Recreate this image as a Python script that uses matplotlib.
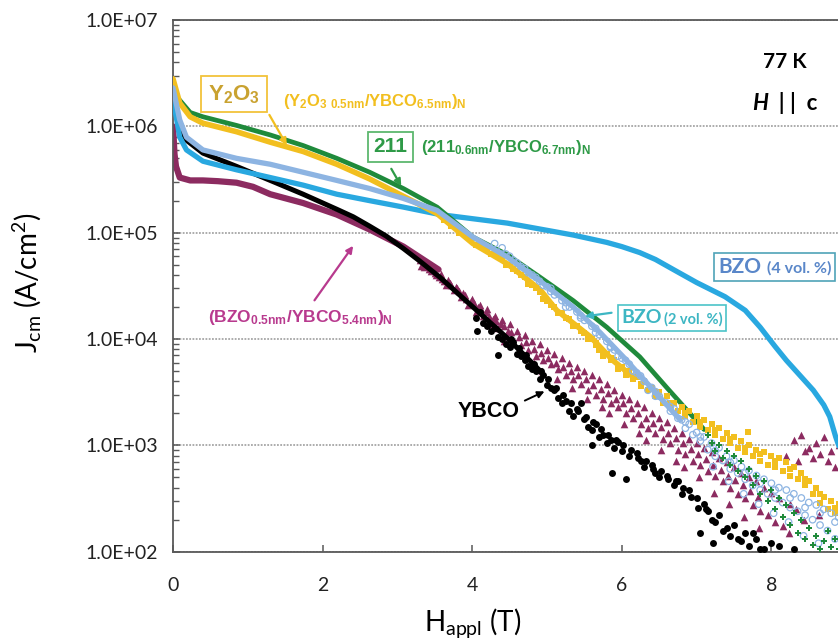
import matplotlib
matplotlib.use("Agg")
import matplotlib.pyplot as plt
from matplotlib.ticker import FuncFormatter, LogLocator, NullFormatter, NullLocator
from matplotlib.offsetbox import TextArea, HPacker, AnnotationBbox

plt.rcParams['font.family'] = ['Lato', 'DejaVu Sans']

# ================= DATA (H in T, Jc in A/cm^2) =================
# YBCO (black circles)
ybco_h_line = [0.01, 0.05, 0.09, 0.18, 0.40, 0.85, 1.30, 1.74, 2.19, 2.41, 2.63, 2.85, 3.08, 3.3,
               3.57, 4.01, 4.47, 4.91]
ybco_j_line = [1.58e6, 1.32e6, 9.8e5, 7.4e5, 5.6e5, 4.2e5, 3.1e5, 2.3e5, 1.66e5, 1.41e5, 1.15e5,
               9.3e4, 7.1e4, 5.4e4, 3.8e4, 2.0e4, 1.02e4, 5.0e3]
ybco_h_pts = [4.05, 4.1, 4.06, 4.15, 4.2, 4.25, 4.3, 4.35, 4.35, 4.4, 4.45, 4.5, 4.55, 4.6, 4.65, 4.7,
              4.75, 4.8, 4.85, 4.9, 4.95, 5.0, 5.05, 5.1, 5.15, 5.2, 5.25, 5.3, 5.35, 5.4, 5.45, 5.5,
              5.55, 5.6, 5.6, 5.65, 5.7, 5.75, 5.8, 5.85, 5.87, 5.9, 5.95, 6.0, 6.05, 6.1, 6.2, 6.25,
              6.3, 6.4, 6.45, 6.5, 6.6, 6.7, 6.75, 6.8, 6.9, 7.0, 7.05, 7.1, 7.15, 7.2, 7.22, 7.3,
              7.4, 7.45, 7.5, 7.6, 7.65, 7.7, 7.8, 7.9, 8.1, 8.3,
              4.52, 4.62, 4.72, 4.82, 4.92, 5.02, 5.12, 5.22, 5.32, 5.42, 5.52, 5.62, 5.72, 5.82,
              5.92, 6.02, 6.12, 6.22, 6.32, 6.42, 6.52, 6.62, 6.72, 6.82, 6.92, 7.02, 7.12, 7.25,
              7.35, 7.55, 7.75, 7.85, 8.0]
ybco_j_pts = [1.58e4, 1.78e4, 1.2e4, 1.41e4, 1.32e4, 1.2e4, 1.26e4, 1.05e4, 7.1e3, 1.0e4, 8.9e3, 8.5e3,
              9.3e3, 7.2e3, 6.9e3, 6.3e3, 5.6e3, 5.2e3, 5.0e3, 4.2e3, 4.6e3, 3.7e3, 3.5e3, 3.3e3,
              2.8e3, 2.5e3, 2.6e3, 2.1e3, 1.9e3, 2.2e3, 2.5e3, 1.78e3, 1.5e3, 1.4e3, 1.0e3, 1.6e3,
              1.2e3, 1.26e3, 1.05e3, 1.12e3, 5.5e2, 9.5e2, 1.07e3, 8.9e2, 4.8e2, 7.9e2, 8.5e2, 7.1e2,
              6.3e2, 6.6e2, 5.5e2, 5.0e2, 5.2e2, 4.2e2, 4.6e2, 3.5e2, 3.8e2, 3.2e2, 1.51e2, 2.8e2,
              2.4e2, 2.0e2, 1.2e2, 2.2e2, 1.66e2, 1.41e2, 1.78e2, 1.26e2, 1.5e2, 1.12e2, 1.32e2,
              1.07e2, 1.12e2, 1.05e2,
              1.0e4, 8.3e3, 7.1e3, 5.8e3, 5.0e3, 4.2e3, 3.5e3, 3.0e3, 2.5e3, 2.1e3, 1.86e3, 1.66e3,
              1.41e3, 1.26e3, 1.12e3, 1.0e3, 9.1e2, 7.6e2, 7.2e2, 6.0e2, 5.8e2, 4.8e2, 4.6e2, 4.0e2,
              3.3e2, 2.6e2, 2.5e2, 1.9e2, 1.58e2, 1.32e2, 1.51e2, 1.05e2, 1.2e2]

# (BZO0.5nm/YBCO5.4nm)N multilayer (maroon triangles)
bml_h_line = [0.0, 0.01, 0.02, 0.04, 0.09, 0.23, 0.40, 0.60, 0.85, 1.07, 1.30, 1.74, 2.19, 2.63,
              3.08, 3.55]
bml_j_line = [1.0e6, 7.5e5, 5.5e5, 4.2e5, 3.3e5, 3.1e5, 3.1e5, 3.05e5, 2.95e5, 2.7e5, 2.3e5, 1.9e5,
              1.48e5, 1.07e5, 7.4e4, 4.5e4]
bml_h_pts = [3.3, 3.35, 3.4, 3.45, 3.5, 3.55, 3.6, 3.65, 3.7, 3.75, 3.8, 3.85, 3.9, 3.95, 4.0, 4.05,
             4.1, 4.15, 4.2, 4.25, 4.3, 4.35, 4.4, 4.45, 4.43, 4.5, 4.55, 4.6, 4.65, 4.63, 4.7, 4.75,
             4.8, 4.85, 4.83, 4.9, 4.95, 4.93, 5.0, 5.05, 5.1, 5.15, 5.13, 5.2, 5.25, 5.3, 5.35, 5.33,
             5.4, 5.45, 5.5, 5.55, 5.53, 5.6, 5.65, 5.7, 5.75, 5.73, 5.8, 5.85, 5.83, 5.9, 5.95, 6.0,
             6.05, 6.03, 6.1, 6.15, 6.2, 6.25, 6.23, 6.3, 6.35, 6.33, 6.4, 6.45, 6.5, 6.55, 6.53, 6.6,
             6.65, 6.7, 6.75, 6.73, 6.8, 6.85, 6.83, 6.9, 6.95, 7.0, 7.05, 7.03, 7.1, 7.15, 7.2, 7.25,
             7.23, 7.3, 7.35, 7.4, 7.45, 7.43, 7.5, 7.55, 7.6, 7.65, 7.63, 7.7, 7.75, 7.8, 7.85, 7.83,
             7.9, 7.95, 8.0, 8.05, 8.1, 8.15, 8.2, 8.25, 8.23, 8.3, 8.35, 8.33, 8.4, 8.45, 8.43, 8.5,
             8.55, 8.6, 8.65, 8.63, 8.7, 8.75, 8.8, 8.85, 8.9, 8.95,
             3.32, 3.42, 3.52, 3.62, 3.72, 3.82, 3.92, 4.02, 4.12, 4.22, 4.32, 4.42, 4.52, 4.62,
             4.72, 4.82, 4.92, 5.02, 5.12, 5.22, 5.32, 5.42, 5.52, 5.62, 5.72, 5.82, 5.92, 6.02,
             6.12, 6.22, 6.32, 6.42, 6.52, 6.62, 6.72, 6.82, 6.92, 7.02, 7.12, 7.22, 7.32, 7.42,
             7.52, 7.62, 7.72, 7.82,
             3.58, 3.68, 3.78, 3.88, 3.98, 4.08, 4.18, 4.28, 4.38, 4.48]
bml_j_pts = [5.5e4, 4.8e4, 5.0e4, 4.4e4, 4.2e4, 3.8e4, 3.7e4, 3.2e4, 3.4e4, 2.9e4, 3.0e4, 2.5e4, 2.6e4,
             2.1e4, 2.4e4, 1.8e4, 2.1e4, 1.66e4, 1.9e4, 1.38e4, 1.66e4, 1.26e4, 1.5e4, 1.1e4, 9.5e3,
             1.38e4, 9.5e3, 1.2e4, 8.7e3, 7.6e3, 1.1e4, 7.9e3, 9.5e3, 6.9e3, 6.0e3, 8.9e3, 6.3e3,
             5.0e3, 7.9e3, 5.8e3, 7.2e3, 5.2e3, 4.2e3, 6.6e3, 4.6e3, 6.0e3, 4.2e3, 3.5e3, 5.5e3, 3.8e3,
             5.0e3, 3.3e3, 2.75e3, 4.6e3, 3.0e3, 4.2e3, 2.75e3, 2.3e3, 3.8e3, 2.5e3, 2.0e3, 3.3e3,
             2.3e3, 3.0e3, 2.0e3, 1.58e3, 2.75e3, 1.8e3, 2.5e3, 1.58e3, 1.32e3, 2.3e3, 1.45e3, 1.12e3,
             2.0e3, 1.32e3, 1.8e3, 1.15e3, 9.1e2, 1.66e3, 1.05e3, 1.45e3, 9.1e2, 7.2e2, 1.32e3, 8.3e2,
             6.3e2, 1.15e3, 7.2e2, 1.05e3, 6.6e2, 5.0e2, 9.5e2, 5.8e2, 8.7e2, 5.2e2, 3.6e2, 7.6e2,
             4.6e2, 6.9e2, 4.0e2, 2.8e2, 6.3e2, 3.5e2, 5.5e2, 3.2e2, 2.1e2, 5.0e2, 2.75e2, 4.6e2,
             2.4e2, 1.66e2, 4.0e2, 2.2e2, 3.6e2, 1.9e2, 3.2e2, 1.74e2, 7.9e2, 2.8e2, 1.51e2, 1.12e3,
             7.1e2, 2.5e2, 1.26e3, 8.9e2, 2.0e2, 9.5e2, 7.6e2, 1.05e3, 8.3e2, 2.2e2, 1.2e3, 7.1e2,
             8.9e2, 6.3e2, 1.0e3, 7.6e2,
             4.9e4, 4.6e4, 4.0e4, 3.5e4, 3.2e4, 2.8e4, 2.4e4, 2.2e4, 1.9e4, 1.66e4, 1.48e4, 1.32e4,
             1.17e4, 1.05e4, 9.3e3, 8.1e3, 7.4e3, 6.6e3, 6.0e3, 5.5e3, 5.0e3, 4.6e3, 4.2e3, 3.7e3,
             3.4e3, 3.1e3, 2.75e3, 2.5e3, 2.24e3, 2.0e3, 1.8e3, 1.62e3, 1.48e3, 1.32e3, 1.17e3,
             1.05e3, 9.3e2, 8.3e2, 7.4e2, 6.6e2, 5.9e2, 5.2e2, 4.7e2, 4.2e2, 3.7e2, 3.3e2,
             4.1e4, 3.6e4, 3.1e4, 2.7e4, 2.3e4, 2.0e4, 1.78e4, 1.55e4, 1.38e4, 1.2e4]

# BZO 2 vol.% (light blue open circles)
bzo2_h_line = [0.0, 0.09, 0.18, 0.40, 0.85, 1.30, 1.74, 2.19, 2.63, 3.08, 3.53, 4.01, 4.47, 4.91,
               5.35, 5.71, 6.02, 6.33, 6.78]
bzo2_j_line = [2.3e6, 1.15e6, 7.9e5, 6.0e5, 5.0e5, 4.4e5, 3.7e5, 3.1e5, 2.6e5, 2.1e5, 1.62e5, 9.1e4,
               5.9e4, 3.5e4, 2.0e4, 1.15e4, 6.8e3, 3.9e3, 1.74e3]
bzo2_h_pts = [4.3, 4.4, 4.5, 4.55, 4.6, 4.7, 4.75, 4.8, 4.9, 4.95, 5.0, 5.05, 5.1, 5.2, 5.25, 5.3,
              5.4, 5.45, 5.5, 5.6, 5.65, 5.7, 5.8, 5.85, 5.9, 5.95, 6.0, 6.1, 6.15, 6.2, 6.3, 6.35,
              6.4, 6.45, 6.5, 6.6, 6.65, 6.7, 6.75, 6.8, 6.85, 6.9, 6.95, 7.0, 7.05, 7.1, 7.15, 7.2,
              7.25, 7.22, 7.3, 7.35, 7.4, 7.45, 7.43, 7.5, 7.55, 7.6, 7.65, 7.63, 7.7, 7.75, 7.8,
              7.85, 7.83, 7.9, 7.95, 8.0, 8.05, 8.03, 8.1, 8.15, 8.2, 8.25, 8.23, 8.3, 8.35, 8.4,
              8.45, 8.43, 8.5, 8.55, 8.6, 8.65, 8.63, 8.7, 8.75, 8.8, 8.85, 8.9, 8.95,
              4.45, 4.65, 4.85, 5.05, 5.25, 5.45, 5.65, 5.85, 6.05, 6.25, 6.45, 6.65, 6.85, 7.05,
              7.25, 7.45, 7.65, 7.85, 8.05, 8.25, 8.45, 8.65, 8.85]
bzo2_j_pts = [7.9e4, 7.2e4, 6.0e4, 5.5e4, 5.2e4, 4.6e4, 4.2e4, 4.0e4, 3.5e4, 3.2e4, 3.1e4, 2.8e4,
              2.6e4, 2.3e4, 2.0e4, 2.0e4, 1.8e4, 1.58e4, 1.5e4, 1.32e4, 1.15e4, 1.1e4, 9.5e3, 8.3e3,
              7.9e3, 6.9e3, 6.6e3, 5.8e3, 5.0e3, 4.8e3, 4.0e3, 3.3e3, 3.5e3, 2.9e3, 2.9e3, 2.5e3,
              2.1e3, 2.2e3, 1.8e3, 1.74e3, 1.45e3, 1.58e3, 1.26e3, 1.32e3, 1.1e3, 1.2e3, 9.1e2,
              1.05e3, 7.9e2, 6.3e2, 9.5e2, 7.2e2, 7.9e2, 6.0e2, 4.6e2, 7.2e2, 5.5e2, 6.3e2, 4.8e2,
              3.5e2, 5.8e2, 4.2e2, 5.2e2, 3.8e2, 2.8e2, 4.8e2, 3.5e2, 4.4e2, 3.2e2, 2.3e2, 4.0e2,
              2.9e2, 3.8e2, 2.6e2, 1.9e2, 3.5e2, 2.4e2, 3.2e2, 2.2e2, 1.41e2, 2.9e2, 2.0e2, 2.75e2,
              1.78e2, 1.2e2, 2.5e2, 1.58e2, 2.3e2, 1.32e2, 2.1e2, 1.12e2,
              6.3e4, 4.8e4, 3.8e4, 3.0e4, 2.2e4, 1.66e4, 1.26e4, 8.5e3, 6.3e3, 4.5e3, 3.2e3, 2.3e3,
              1.66e3, 1.2e3, 8.9e2, 6.9e2, 5.5e2, 4.4e2, 3.8e2, 3.2e2, 2.6e2, 2.3e2, 1.9e2]

# (Y2O3 0.5nm/YBCO6.5nm)N (gold squares)
y2o3_h_line = [0.0, 0.09, 0.23, 0.40, 0.85, 1.30, 1.74, 2.19, 2.63, 3.08, 3.53, 4.01, 4.47, 4.91,
               5.13, 5.35, 5.58, 5.88, 6.15]
y2o3_j_line = [2.8e6, 1.66e6, 1.23e6, 1.07e6, 8.9e5, 7.1e5, 5.8e5, 4.4e5, 3.2e5, 2.2e5, 1.51e5,
               7.9e4, 5.1e4, 2.9e4, 1.86e4, 1.41e4, 1.05e4, 6.3e3, 4.4e3]
y2o3_h_pts = [3.9, 3.95, 4.0, 4.1, 4.15, 4.2, 4.3, 4.35, 4.4, 4.5, 4.55, 4.6, 4.7, 4.75, 4.8, 4.9,
              4.95, 5.0, 5.1, 5.15, 5.2, 5.3, 5.35, 5.4, 5.5, 5.55, 5.6, 5.65, 5.7, 5.75, 5.8, 5.85,
              5.9, 5.95, 6.0, 6.05, 6.1, 6.15, 6.2, 6.25, 6.3, 6.35, 6.4, 6.45, 6.5, 6.55, 6.6, 6.65,
              6.7, 6.75, 6.8, 6.85, 6.9, 6.95, 7.0, 7.05, 7.1, 7.15, 7.2, 7.25, 7.3, 7.35, 7.4, 7.45,
              7.5, 7.55, 7.6, 7.65, 7.69, 7.7, 7.75, 7.8, 7.85, 7.9, 7.95, 8.0, 8.05, 8.1, 8.15, 8.2,
              8.25, 8.3, 8.35, 8.4, 8.45, 8.5, 8.55, 8.6, 8.65, 8.7, 8.75, 8.8, 8.85, 8.9, 8.95,
              3.62, 3.72, 3.82, 4.05, 4.25, 4.45, 4.65, 4.85, 5.05, 5.25, 5.45, 5.65, 5.85, 6.05,
              6.25, 6.45, 6.65, 6.85, 7.05, 7.25, 7.45, 7.65, 7.85, 8.05, 8.25, 8.45, 8.65, 8.85]
y2o3_j_pts = [1.0e5, 9.1e4, 8.9e4, 7.9e4, 7.2e4, 7.2e4, 6.6e4, 6.0e4, 5.8e4, 5.0e4, 4.6e4, 4.4e4,
              3.8e4, 3.3e4, 3.2e4, 2.75e4, 2.4e4, 2.3e4, 2.0e4, 1.74e4, 1.74e4, 1.55e4, 1.32e4,
              1.32e4, 1.15e4, 1.0e4, 1.0e4, 8.7e3, 7.9e3, 6.9e3, 7.2e3, 6.3e3, 6.3e3, 5.2e3, 5.5e3,
              4.6e3, 5.0e3, 4.2e3, 4.4e3, 3.6e3, 4.0e3, 3.3e3, 3.5e3, 2.9e3, 3.2e3, 2.5e3, 2.9e3,
              2.4e3, 2.5e3, 2.1e3, 2.3e3, 1.9e3, 2.1e3, 1.66e3, 1.9e3, 1.5e3, 1.74e3, 1.38e3, 1.58e3,
              1.26e3, 1.45e3, 1.15e3, 1.32e3, 1.05e3, 1.2e3, 9.5e2, 1.1e3, 8.7e2, 1.35e3, 1.0e3,
              7.9e2, 9.1e2, 7.2e2, 8.7e2, 6.6e2, 7.9e2, 6.3e2, 7.6e2, 5.8e2, 6.9e2, 5.2e2, 6.3e2,
              4.8e2, 5.5e2, 4.2e2, 4.6e2, 3.5e2, 4.0e2, 2.9e2, 3.3e2, 2.5e2, 3.0e2, 2.3e2, 2.8e2,
              2.1e2,
              1.32e5, 1.15e5, 1.0e5, 7.6e4, 6.3e4, 5.0e4, 4.0e4, 3.0e4, 2.1e4, 1.58e4, 1.2e4, 9.1e3,
              6.6e3, 5.0e3, 3.8e3, 3.0e3, 2.5e3, 2.0e3, 1.66e3, 1.38e3, 1.15e3, 9.5e2, 8.3e2, 7.1e2,
              6.0e2, 4.8e2, 3.5e2, 2.6e2]

# (211 0.6nm/YBCO6.7nm)N (green)
g211_h_line = [0.0, 0.05, 0.23, 0.40, 0.85, 1.30, 1.74, 2.19, 2.63, 3.08, 3.53, 4.01, 4.47, 4.91,
               5.35, 5.80, 6.24, 6.60, 6.95, 7.1]
g211_j_line = [2.5e6, 1.9e6, 1.35e6, 1.23e6, 1.02e6, 8.3e5, 6.6e5, 5.0e5, 3.7e5, 2.6e5, 1.74e5,
               9.1e4, 6.2e4, 3.8e4, 2.3e4, 1.29e4, 6.8e3, 3.5e3, 1.86e3, 1.41e3]
g211_h_pts = [7.15, 7.2, 7.25, 7.3, 7.35, 7.4, 7.45, 7.5, 7.55, 7.6, 7.65, 7.7, 7.75, 7.8, 7.85,
              7.9, 7.95, 8.0, 8.05, 8.1, 8.15, 8.2, 8.25, 8.3, 8.35, 8.4, 8.45, 8.5, 8.55, 8.6, 8.65,
              8.7, 8.75, 8.8, 8.85, 8.9]
g211_j_pts = [1.26e3, 1.05e3, 8.9e2, 1.0e3, 7.6e2, 8.9e2, 6.6e2, 7.9e2, 5.8e2, 7.1e2, 5.0e2, 6.0e2,
              4.2e2, 5.2e2, 3.5e2, 4.6e2, 3.0e2, 3.8e2, 2.5e2, 3.2e2, 2.1e2, 2.75e2, 1.8e2, 2.3e2,
              1.5e2, 2.0e2, 1.32e2, 1.66e2, 1.15e2, 1.41e2, 1.05e2, 1.26e2, 1.58e2, 1.1e2, 1.32e2,
              1.07e2]

# BZO 4 vol.% (blue)
bzo4_h = [0.0, 0.05, 0.09, 0.18, 0.40, 0.85, 1.30, 1.74, 2.19, 2.63, 3.08, 3.57, 4.47, 5.35, 5.8,
          6.0, 6.24, 6.45, 6.69, 7.0, 7.38, 7.65, 7.85, 8.05, 8.2, 8.4, 8.56, 8.7, 8.78, 8.86, 8.95]
bzo4_j = [1.8e6, 1.15e6, 7.9e5, 6.0e5, 4.7e5, 3.9e5, 3.3e5, 2.8e5, 2.3e5, 2.0e5, 1.74e5, 1.48e5,
          1.23e5, 9.5e4, 8.1e4, 7.4e4, 6.5e4, 5.6e4, 4.5e4, 3.4e4, 2.5e4, 1.86e4, 1.29e4, 8.5e3,
          6.3e3, 4.4e3, 3.3e3, 2.4e3, 1.86e3, 1.2e3, 7.9e2]

# ================= COLOURS =================
c_black = "#000000"
c_maroon = "#8C2B60"
c_lblue = "#8DB4E2"
c_gold = "#F2BF1F"
c_green = "#1F8A3B"
c_blue = "#29A8E0"

# ================= FIGURE =================
fig = plt.figure(figsize=(8.38, 6.41), dpi=100)
ax = fig.add_axes([173 / 838, (641 - 551.7) / 641, 748 / 838, 531.7 / 641])
ax.set_yscale("log")
ax.set_xlim(0, 10)
ax.set_ylim(1e2, 1e7)

# maroon multilayer
ax.plot(bml_h_line, bml_j_line, color=c_maroon, lw=4.5, solid_capstyle="round", zorder=2)
ax.scatter(bml_h_pts, bml_j_pts, marker="^", s=30, color=c_maroon, lw=0, zorder=2)
# YBCO
ax.plot(ybco_h_line, ybco_j_line, color=c_black, lw=3.6, solid_capstyle="round", zorder=3)
ax.scatter(ybco_h_pts, ybco_j_pts, marker="o", s=25, color=c_black, lw=0, zorder=3)
# BZO 4 vol%
ax.plot(bzo4_h, bzo4_j, color=c_blue, lw=3.8, solid_capstyle="round", zorder=3)
# 211
ax.plot(g211_h_line, g211_j_line, color=c_green, lw=3.4, solid_capstyle="round", zorder=4)
ax.scatter(g211_h_pts, g211_j_pts, marker="P", s=20, color=c_green, lw=0, zorder=6)
# Y2O3
ax.plot(y2o3_h_line, y2o3_j_line, color=c_gold, lw=4.0, solid_capstyle="round", zorder=4)
ax.scatter(y2o3_h_pts, y2o3_j_pts, marker="s", s=22, color=c_gold, lw=0, zorder=4)
# BZO 2 vol%
ax.plot(bzo2_h_line, bzo2_j_line, color=c_lblue, lw=3.8, solid_capstyle="round", zorder=5)
ax.scatter(bzo2_h_pts, bzo2_j_pts, marker="o", s=22, facecolor="none", edgecolor=c_lblue,
           lw=0.9, zorder=5)

# ================= AXES STYLE =================
ax.yaxis.grid(True, which="major", color="#A6A6A6", linestyle=(0, (1, 0.8)), linewidth=1.3)
ax.set_axisbelow(True)
for side in ["left", "bottom", "top"]:
    ax.spines[side].set_color("#595959")
    ax.spines[side].set_linewidth(1.3)
ax.spines["right"].set_visible(False)

ax.set_xticks([0, 2, 4, 6, 8])
ax.xaxis.set_minor_locator(NullLocator())
ax.yaxis.set_major_locator(LogLocator(base=10, numticks=10))
ax.yaxis.set_minor_locator(LogLocator(base=10, subs=range(2, 10), numticks=20))
ax.yaxis.set_minor_formatter(NullFormatter())
ax.yaxis.set_major_formatter(FuncFormatter(lambda v, _: f"{v:.1E}"))
ax.tick_params(axis="y", which="major", direction="in", length=5, width=1.1, color="#595959",
               labelsize=14, pad=11, labelcolor="#222222")
ax.tick_params(axis="y", which="minor", direction="in", length=4, width=1.0, color="#595959")
ax.tick_params(axis="x", which="major", direction="in", length=5, width=1.1, color="#595959",
               labelsize=14, pad=18, labelcolor="#222222")

ax.set_ylabel(r"J$\mathregular{_{cm}}$ (A/cm$\mathregular{^2}$)", fontsize=20)
ax.yaxis.set_label_coords(-0.172, 0.505)
ax.set_xlabel(r"H$\mathregular{_{appl}}$ (T)", fontsize=20)
ax.xaxis.set_label_coords(0.4, -0.102)

# ================= ANNOTATIONS =================
arial = ["Liberation Sans", "DejaVu Sans"]

# Y2O3
ax.text(0.47, 2.0e6, r"Y$\mathregular{_2}$O$\mathregular{_3}$", family=arial, weight="bold",
        fontsize=16, color="#C9A230", ha="left", va="center", zorder=8,
        bbox=dict(boxstyle="square,pad=0.3", fc="white", ec="#F2C33A", lw=1.3))
ax.annotate("", xy=(1.54, 6.3e5), xytext=(1.27, 1.35e6),
            arrowprops=dict(arrowstyle="-|>", color=c_gold, lw=1.6, mutation_scale=10), zorder=8)
ax.text(1.47, 1.7e6, r"(Y$\mathregular{_2}$O$\mathregular{_{3\ 0.5nm}}$/YBCO$\mathregular{_{6.5nm}}$)$\mathregular{_N}$",
        family=arial, weight="bold", fontsize=12, color=c_gold, ha="left", va="center", zorder=8)

# 211
ax.text(2.68, 6.4e5, "211", family=arial, weight="bold", fontsize=15, color="#2E9A47",
        ha="left", va="center", zorder=8,
        bbox=dict(boxstyle="square,pad=0.25", fc="white", ec="#5DB86E", lw=1.3))
ax.annotate("", xy=(3.07, 2.6e5), xytext=(2.90, 4.2e5),
            arrowprops=dict(arrowstyle="-|>", color="#2E9A47", lw=1.6, mutation_scale=10), zorder=8)
ax.text(3.32, 6.3e5, r"(211$\mathregular{_{0.6nm}}$/YBCO$\mathregular{_{6.7nm}}$)$\mathregular{_N}$",
        family=arial, weight="bold", fontsize=12, color="#2E9A47", ha="left", va="center", zorder=8)

# BZO multilayer
ax.text(0.47, 1.58e4, r"(BZO$\mathregular{_{0.5nm}}$/YBCO$\mathregular{_{5.4nm}}$)$\mathregular{_N}$",
        family=arial, weight="bold", fontsize=12.5, color="#B83A8E", ha="left", va="center", zorder=8)
ax.annotate("", xy=(2.43, 7.9e4), xytext=(1.87, 2.2e4),
            arrowprops=dict(arrowstyle="-|>", color="#B83A8E", lw=1.6, mutation_scale=10), zorder=8)

# YBCO
ax.text(3.81, 2.1e3, "YBCO", family=arial, weight="bold", fontsize=15.5, color="black",
        ha="left", va="center", zorder=8)
ax.annotate("", xy=(5.0, 3.3e3), xytext=(4.67, 2.57e3),
            arrowprops=dict(arrowstyle="-|>", color="black", lw=1.4, mutation_scale=10), zorder=8)


def boxed_label(x, y, big, small, color, edge, big_size, small_size):
    parts = HPacker(children=[
        TextArea(big, textprops=dict(family="Lato", weight="bold", fontsize=big_size, color=color)),
        TextArea(small, textprops=dict(family="Lato", weight="bold", fontsize=small_size, color=color)),
    ], align="baseline", pad=0, sep=1)
    ab = AnnotationBbox(parts, (x, y), xycoords="data", box_alignment=(0, 0.5), frameon=True,
                        pad=0.3, zorder=8,
                        bboxprops=dict(boxstyle="square,pad=0.3", fc="white", ec=edge, lw=1.2))
    ax.add_artist(ab)


boxed_label(7.29, 4.75e4, "BZO", " (4 vol. %)", "#5A87C9", "#4FA3B8", 15, 11.5)
boxed_label(6.0, 1.58e4, "BZO", "(2 vol. %)", "#3DB6C3", "#4BC4C8", 14, 10.5)
ax.annotate("", xy=(5.47, 1.62e4), xytext=(5.9, 1.78e4),
            arrowprops=dict(arrowstyle="-|>", color="#3DB6C3", lw=1.6, mutation_scale=10), zorder=8)

# 77 K, H || c
ax.text(8.18, 4.0e6, "77 K", family="Lato", weight="bold", fontsize=15, color="black",
        ha="center", va="center", zorder=8)
hc = HPacker(children=[
    TextArea("H", textprops=dict(family="Lato", weight="bold", style="italic", fontsize=16, color="black")),
    TextArea("  | |  c", textprops=dict(family="Lato", weight="bold", fontsize=16, color="black")),
], align="baseline", pad=0, sep=0)
ax.add_artist(AnnotationBbox(hc, (8.18, 1.66e6), xycoords="data", box_alignment=(0.5, 0.5),
                             frameon=False, pad=0, zorder=8))

fig.savefig("out.png", dpi=100)
